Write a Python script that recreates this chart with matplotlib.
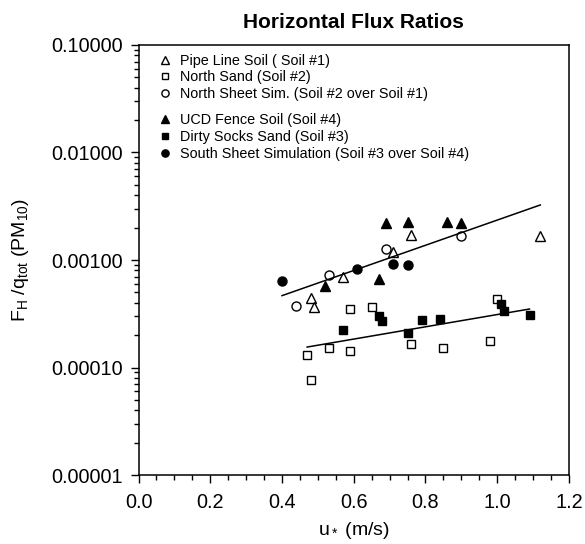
import numpy as np
import matplotlib
matplotlib.use('Agg')
import matplotlib.pyplot as plt
from matplotlib.ticker import FormatStrFormatter, MultipleLocator, LogLocator, NullFormatter

plt.rcParams['font.family'] = ['Liberation Sans', 'DejaVu Sans']
plt.rcParams['mathtext.fontset'] = 'custom'
plt.rcParams['mathtext.rm'] = 'Liberation Sans'
plt.rcParams['mathtext.it'] = 'Liberation Sans'

# Pipe Line Soil (Soil #1)
pipe_x = [0.48, 0.49, 0.57, 0.71, 0.76, 1.12]
pipe_y = [4.46e-4, 3.68e-4, 6.9e-4, 1.19e-3, 1.71e-3, 1.68e-3]
# North Sand (Soil #2)
nsand_x = [0.47, 0.48, 0.53, 0.59, 0.59, 0.65, 0.76, 0.85, 0.98, 1.00]
nsand_y = [1.30e-4, 7.7e-5, 1.53e-4, 1.43e-4, 3.50e-4, 3.63e-4, 1.66e-4, 1.53e-4, 1.77e-4, 4.30e-4]
# North Sheet Sim.
nsheet_x = [0.44, 0.53, 0.69, 0.90]
nsheet_y = [3.76e-4, 7.24e-4, 1.26e-3, 1.67e-3]
# UCD Fence Soil (Soil #4)
ucd_x = [0.52, 0.67, 0.69, 0.75, 0.86, 0.90]
ucd_y = [5.73e-4, 6.65e-4, 2.23e-3, 2.27e-3, 2.25e-3, 2.22e-3]
# Dirty Socks Sand (Soil #3)
dirty_x = [0.57, 0.67, 0.68, 0.75, 0.79, 0.84, 1.01, 1.02, 1.09]
dirty_y = [2.23e-4, 3.03e-4, 2.71e-4, 2.11e-4, 2.77e-4, 2.82e-4, 3.87e-4, 3.38e-4, 3.08e-4]
# South Sheet Simulation
ssheet_x = [0.40, 0.61, 0.71, 0.75]
ssheet_y = [6.44e-4, 8.17e-4, 9.18e-4, 8.98e-4]

# fit lines (end points)
upper_fit_x = [0.40, 1.12]
upper_fit_y = [4.66e-4, 3.25e-3]
lower_fit_x = [0.47, 1.09]
lower_fit_y = [1.55e-4, 3.50e-4]

fig = plt.figure(figsize=(5.85, 5.44), dpi=100)
ax = fig.add_axes([0.2368, 0.1268, 0.7358, 0.7905])

ms = 6.5
h1, = ax.plot(pipe_x, pipe_y, ls='none', marker='^', ms=ms, mfc='white', mec='black', mew=1.0,
              label='Pipe Line Soil ( Soil #1)')
h2, = ax.plot(nsand_x, nsand_y, ls='none', marker='s', ms=ms - 0.5, mfc='white', mec='black', mew=1.0,
              label='North Sand (Soil #2)')
h3, = ax.plot(nsheet_x, nsheet_y, ls='none', marker='o', ms=ms, mfc='white', mec='black', mew=1.0,
              label='North Sheet Sim. (Soil #2 over Soil #1)')
h4, = ax.plot(ucd_x, ucd_y, ls='none', marker='^', ms=ms, color='black',
              label='UCD Fence Soil (Soil #4)')
h5, = ax.plot(dirty_x, dirty_y, ls='none', marker='s', ms=ms - 0.5, color='black',
              label='Dirty Socks Sand (Soil #3)')
h6, = ax.plot(ssheet_x, ssheet_y, ls='none', marker='o', ms=ms, color='black',
              label='South Sheet Simulation (Soil #3 over Soil #4)')

ax.plot(upper_fit_x, upper_fit_y, color='black', lw=1.1)
ax.plot(lower_fit_x, lower_fit_y, color='black', lw=1.1)

ax.set_yscale('log')
ax.set_xlim(0, 1.2)
ax.set_ylim(1e-5, 1e-1)
ax.xaxis.set_major_locator(MultipleLocator(0.2))
ax.xaxis.set_minor_locator(MultipleLocator(0.05))
ax.xaxis.set_major_formatter(FormatStrFormatter('%.1f'))
ax.yaxis.set_major_locator(LogLocator(base=10))
ax.yaxis.set_minor_locator(LogLocator(base=10, subs=np.arange(2, 10)))
ax.yaxis.set_major_formatter(FormatStrFormatter('%.5f'))
ax.yaxis.set_minor_formatter(NullFormatter())
ax.tick_params(which='major', direction='out', length=6, width=1.0, labelsize=14.3, colors='black')
ax.tick_params(axis='x', which='major', pad=7)
ax.tick_params(axis='y', which='major', pad=5)
ax.tick_params(which='minor', direction='out', length=3.5, width=1.0)
for s in ax.spines.values():
    s.set_linewidth(1.1)

ax.set_xlabel(r'u$_*$ (m/s)', fontsize=14, labelpad=6)
ax.set_ylabel(r'F$_\mathregular{H}$ /q$_\mathregular{tot}$ (PM$_\mathregular{10}$)', fontsize=14, labelpad=15)
ax.set_title('Horizontal Flux Ratios', fontsize=15, fontweight='bold', pad=12)

leg_kw = dict(frameon=False, fontsize=10.4, borderpad=0, borderaxespad=0, handlelength=1.0,
              handletextpad=0.55, labelspacing=0.2, markerscale=0.8, loc='upper left')
leg1 = ax.legend(handles=[h1, h2, h3], bbox_to_anchor=(0.045, 0.98), **leg_kw)
ax.add_artist(leg1)
ax.legend(handles=[h4, h5, h6], bbox_to_anchor=(0.045, 0.842), **leg_kw)

fig.savefig('out.png', dpi=100)
